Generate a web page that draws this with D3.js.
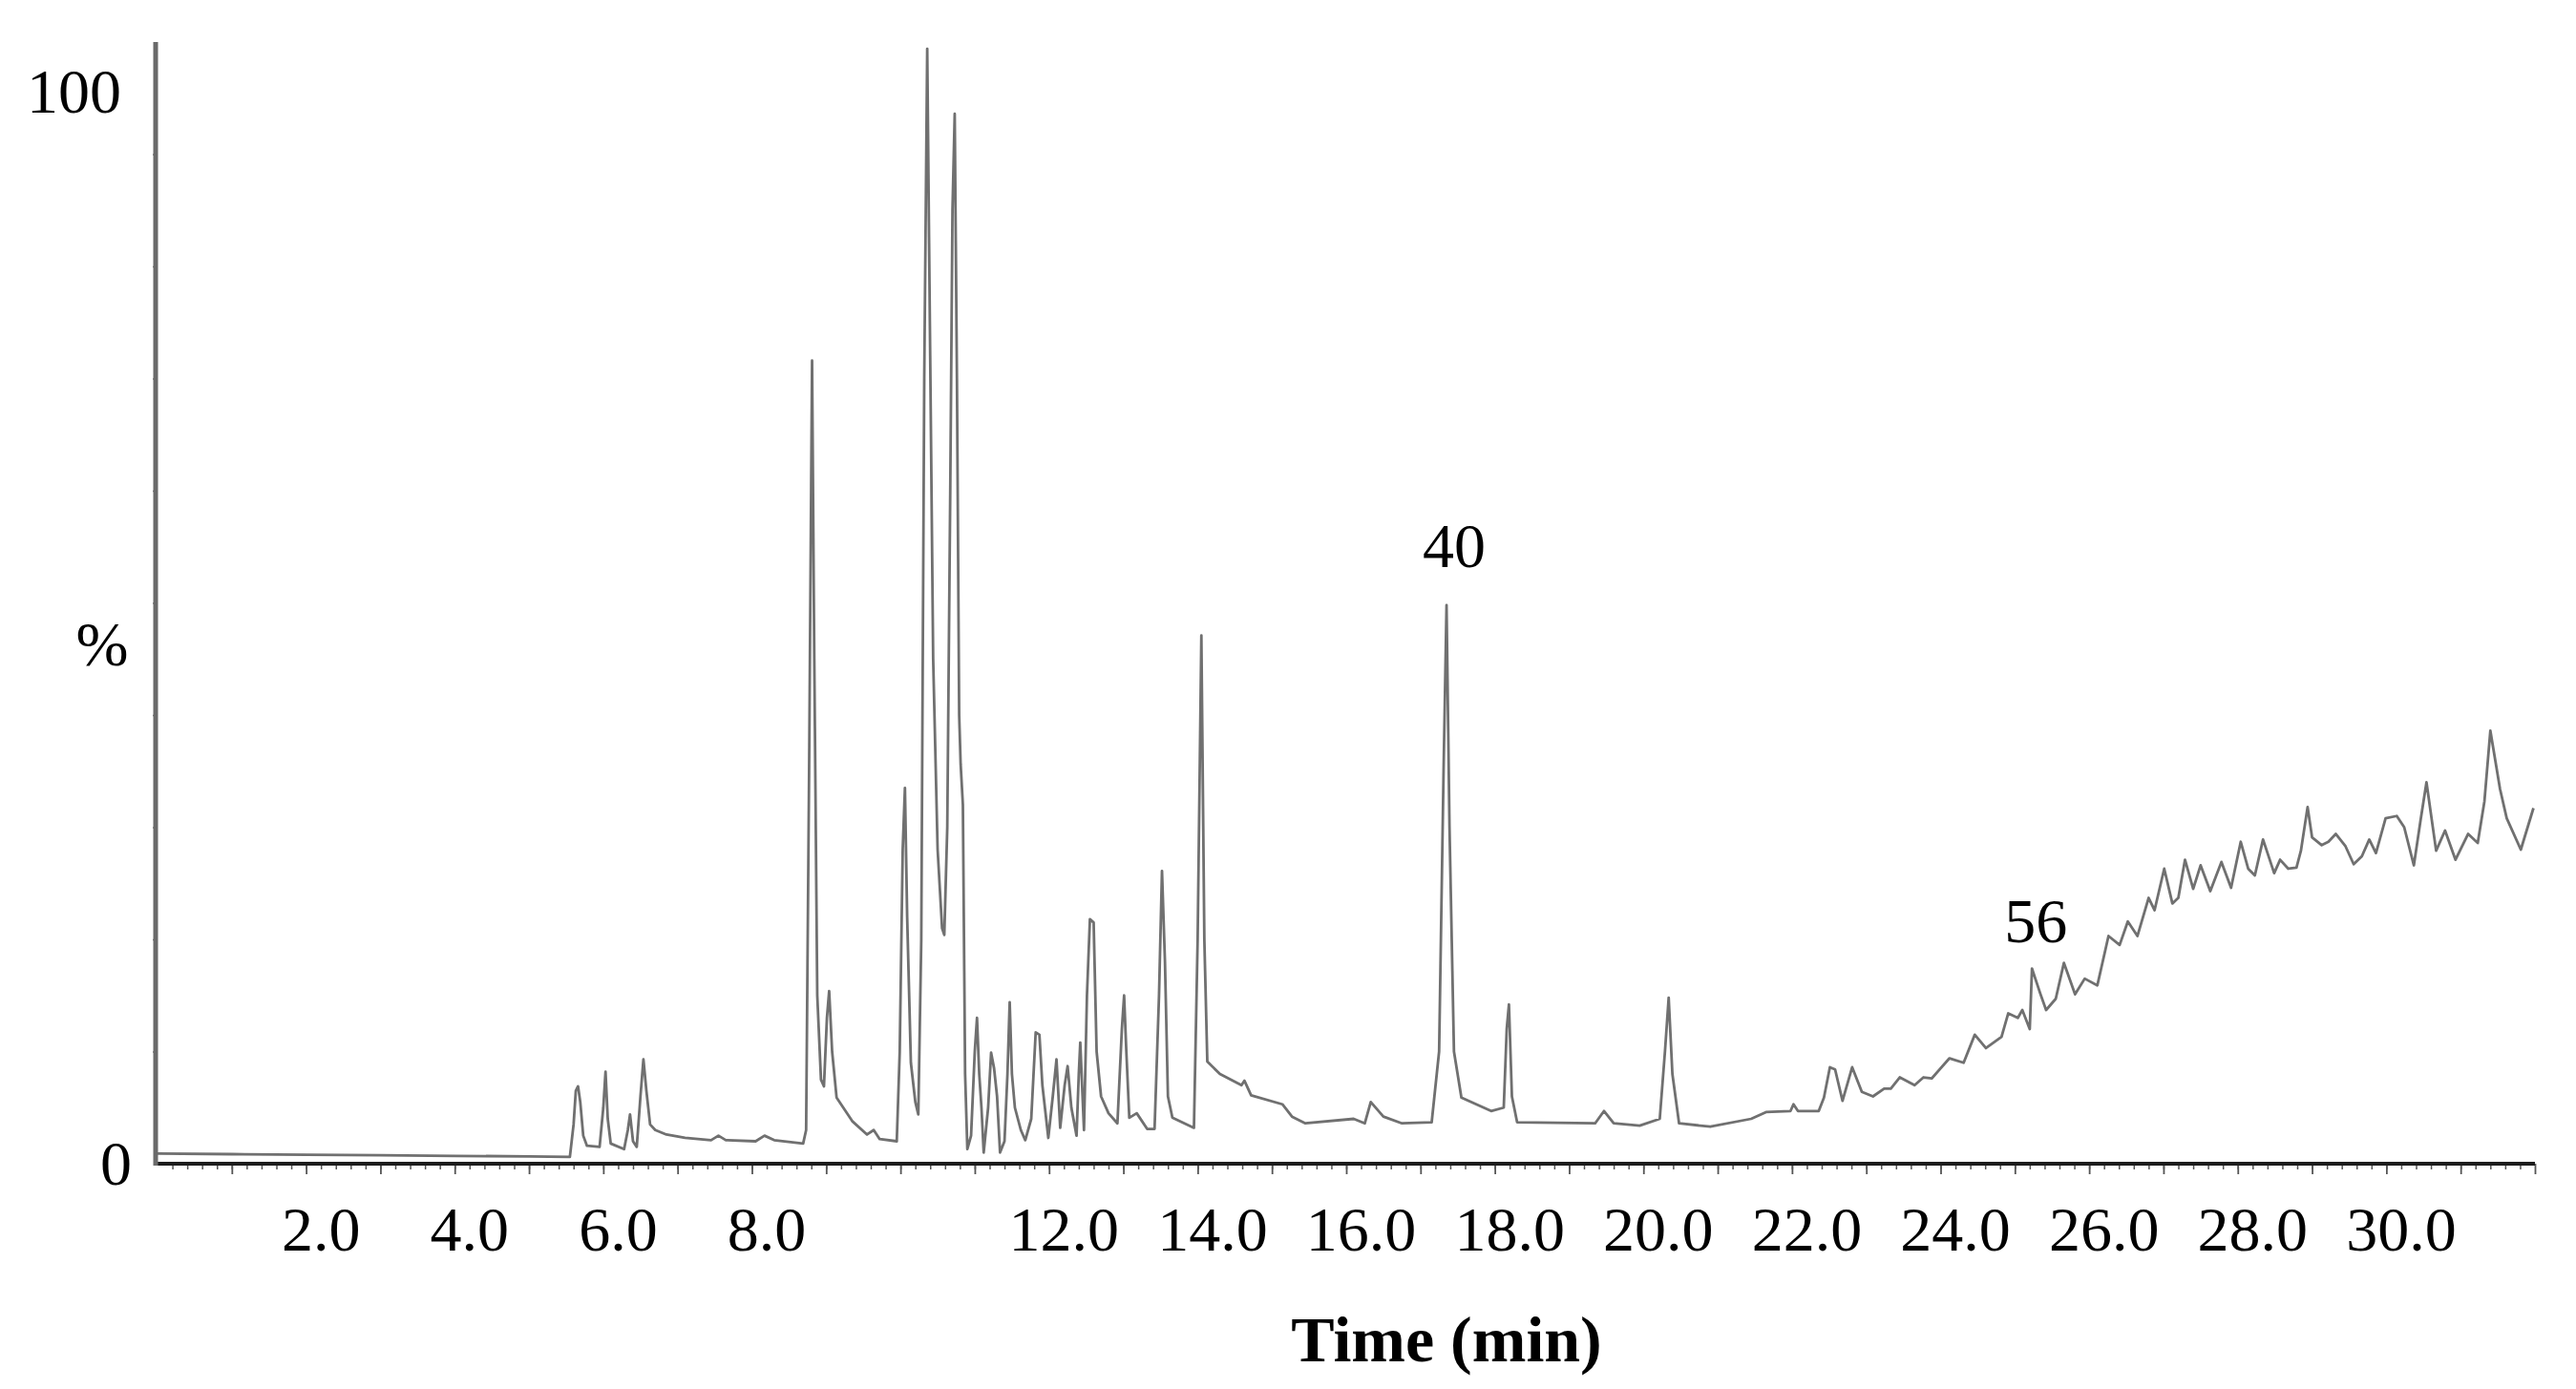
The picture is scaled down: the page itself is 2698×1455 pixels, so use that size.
<!DOCTYPE html>
<html>
<head>
<meta charset="utf-8">
<script src="https://cdn.jsdelivr.net/npm/d3@7"></script>
<style>
  body { margin: 0; background: #fff; }
  text { font-family: "Liberation Serif", "Times New Roman", serif; fill: #000; }
</style>
</head>
<body>
<div id="chart"></div>
<script>
// Retention time (min) and relative abundance (%)
var retentionTime = [
  0.0, 1.0, 2.0, 3.0, 4.0, 5.0, 5.55, 5.60, 5.63, 5.66, 5.69, 5.73, 5.78, 5.95, 6.00, 6.03, 6.06, 6.10,
  6.28, 6.33, 6.36, 6.40, 6.45, 6.50, 6.54, 6.58, 6.63, 6.70, 6.85, 7.10, 7.45, 7.55, 7.65, 8.05, 8.17,
  8.30, 8.69, 8.73, 8.77, 8.81, 8.84, 8.88, 8.93, 8.97, 9.01, 9.04, 9.08, 9.14, 9.35, 9.55, 9.64, 9.72,
  9.95, 9.99, 10.03, 10.06, 10.09, 10.14, 10.20, 10.24, 10.28, 10.32, 10.36, 10.40, 10.44, 10.50, 10.56,
  10.59, 10.63, 10.67, 10.70, 10.73, 10.76, 10.79, 10.81, 10.84, 10.87, 10.90, 10.95, 11.00, 11.03, 11.06,
  11.09, 11.12, 11.18, 11.22, 11.26, 11.30, 11.34, 11.40, 11.44, 11.47, 11.50, 11.54, 11.62, 11.68, 11.76,
  11.82, 11.87, 11.91, 11.99, 12.05, 12.10, 12.15, 12.21, 12.25, 12.30, 12.37, 12.40, 12.42, 12.47, 12.51,
  12.55, 12.60, 12.64, 12.70, 12.80, 12.92, 12.98, 13.01, 13.04, 13.08, 13.18, 13.32, 13.42, 13.48, 13.52,
  13.56, 13.60, 13.66, 13.95, 14.00, 14.05, 14.09, 14.13, 14.30, 14.59, 14.63, 14.72, 15.14, 15.27, 15.45,
  16.10, 16.25, 16.33, 16.50, 16.75, 17.15, 17.25, 17.31, 17.35, 17.39, 17.45, 17.55, 17.95, 18.12, 18.16,
  18.19, 18.23, 18.30, 19.35, 19.47, 19.60, 19.95, 20.22, 20.29, 20.34, 20.39, 20.48, 20.90, 21.45, 21.65,
  21.98, 22.02, 22.08, 22.36, 22.43, 22.51, 22.58, 22.68, 22.81, 22.94, 23.09, 23.24, 23.33, 23.45, 23.65,
  23.77, 23.88, 24.12, 24.31, 24.46, 24.61, 24.82, 24.91, 25.04, 25.10, 25.20, 25.23, 25.34, 25.42, 25.55,
  25.66, 25.81, 25.94, 26.11, 26.26, 26.41, 26.52, 26.65, 26.80, 26.88, 27.01, 27.12, 27.20, 27.29, 27.40,
  27.50, 27.63, 27.78, 27.91, 28.04, 28.14, 28.23, 28.34, 28.49, 28.57, 28.68, 28.79, 28.85, 28.94, 29.00,
  29.13, 29.22, 29.32, 29.45, 29.56, 29.67, 29.77, 29.86, 29.99, 30.14, 30.24, 30.37, 30.46, 30.54, 30.67,
  30.79, 30.93, 31.10, 31.23, 31.32, 31.40, 31.53, 31.62, 31.81, 31.98
];
var abundance = [
  0.9, 0.85, 0.8, 0.75, 0.7, 0.65, 0.6, 3.5, 6.5, 6.9, 5.5, 2.5, 1.6, 1.5, 5.0, 8.2, 4.0, 1.8,
  1.3, 3.0, 4.4, 2.0, 1.5, 6.0, 9.3, 6.5, 3.5, 3.0, 2.6, 2.3, 2.1, 2.5, 2.1, 2.0, 2.5,
  2.1, 1.8, 3.0, 35, 71.6, 45, 15, 7.5, 6.9, 13.0, 15.4, 10, 5.9, 3.8, 2.6, 3.0, 2.2,
  2.0, 10, 28, 33.5, 22, 9, 5.5, 4.4, 20, 70, 99.4, 72, 45, 28, 21,
  20.4, 30, 60, 85, 93.6, 70, 40, 35.6, 32, 8, 1.3, 2.5, 10, 13.0, 8,
  5, 1.0, 5, 9.9, 8.5, 6, 1.0, 2.0, 8, 14.4, 8, 5, 3, 2.1, 4,
  11.7, 11.5, 7, 2.3, 6, 9.3, 3.2, 7, 8.7, 5, 2.5, 8, 10.8, 3, 15,
  21.8, 21.5, 10, 6, 4.5, 3.6, 12, 15.0, 10, 4.1, 4.5, 3.1, 3.1, 15, 26.1,
  18, 6, 4.1, 3.2, 20, 47.1, 20, 9.1, 8.0, 7.0, 7.4, 6.1, 5.3, 4.2, 3.6,
  4.0, 3.6, 5.5, 4.2, 3.6, 3.7, 10, 35, 49.8, 30, 10, 5.9, 4.7, 5.0, 12,
  14.2, 6, 3.7, 3.6, 4.7, 3.6, 3.4, 4.0, 10, 14.8, 8, 3.6, 3.3, 4.0, 4.6,
  4.7, 5.3, 4.7, 4.7, 5.9, 8.6, 8.4, 5.6, 8.6, 6.4, 6.0, 6.7, 6.7, 7.7, 7.0,
  7.7, 7.6, 9.4, 9.0, 11.5, 10.3, 11.3, 13.4, 13.0, 13.7, 12.0, 17.4, 15.2, 13.7, 14.7,
  17.9, 15.1, 16.5, 15.9, 20.3, 19.5, 21.6, 20.3, 23.7, 22.6, 26.3, 23.2, 23.7, 27.1, 24.5,
  26.6, 24.3, 26.9, 24.6, 28.7, 26.3, 25.7, 28.9, 25.9, 27.1, 26.3, 26.4, 27.9, 31.8, 29.1,
  28.4, 28.7, 29.4, 28.3, 26.7, 27.4, 28.9, 27.7, 30.8, 31.0, 30.0, 26.6, 30.6, 34.0, 27.9,
  29.7, 27.1, 29.4, 28.6, 32.3, 38.6, 33.4, 30.8, 28.0, 31.7
];

// Axis ticks and labels
var timeLabels = [2, 4, 6, 8, 12, 14, 16, 18, 20, 22, 24, 26, 28, 30];
var majorTicks = d3.range(1, 33);
var minorTicks = d3.range(0.2, 32, 0.2);
var yTicks = d3.range(10, 100, 10);

// Annotated peaks
var peakNames = ['40', '56'];
var peakTimes = [17.35, 25.23];
var peakHeights = [49.8, 17.4];

var W = 2698, H = 1455;

var svg = d3.select('#chart').append('svg')
    .attr('width', W)
    .attr('height', H)
;

var x = d3.scaleLinear()
    .domain([0, 32])
    .range([165, 2655])
;

var y = d3.scaleLinear()
    .domain([0, 100])
    .range([1219, 44])
;

// Trace
var points = retentionTime.map(function (t, i) {
    return [t, abundance[i]];
});

var line = d3.line()
    .x(function (d) { return x(d[0]); })
    .y(function (d) { return y(d[1]); })
;

svg.append('path')
    .datum(points)
    .attr('d', line)
    .attr('fill', 'none')
    .attr('stroke', '#707070')
    .attr('stroke-width', 2.8)
    .attr('stroke-linejoin', 'round')
;

// Minor ticks on time axis
svg.append('g')
    .attr('transform', 'translate(0,' + y(0) + ')')
    .call(d3.axisBottom(x).tickValues(minorTicks).tickSize(6).tickFormat(''))
    .call(function (g) {
        g.select('.domain').remove();
        g.selectAll('line').attr('stroke', '#555').attr('stroke-width', 1.5);
    })
;

// Major ticks
svg.append('g')
    .attr('transform', 'translate(0,' + y(0) + ')')
    .call(d3.axisBottom(x).tickValues(majorTicks).tickSize(11).tickFormat(''))
    .call(function (g) {
        g.select('.domain').remove();
        g.selectAll('line').attr('stroke', '#555').attr('stroke-width', 1.8);
    })
;

// Time labels
svg.append('g')
    .attr('transform', 'translate(0,' + y(0) + ')')
    .call(d3.axisBottom(x).tickValues(timeLabels).tickSize(0).tickFormat(d3.format('.1f')))
    .call(function (g) {
        g.select('.domain').remove();
        g.selectAll('text')
            .attr('y', 91)
            .attr('dy', 0)
            .attr('dx', 15)
            .attr('font-size', '66px')
            .attr('font-family', '"Liberation Serif", serif')
            .attr('fill', '#000');
    })
;

// X axis line
svg.append('line')
    .attr('x1', 161).attr('x2', x(32))
    .attr('y1', y(0)).attr('y2', y(0))
    .attr('stroke', '#1c1c1c')
    .attr('stroke-width', 4)
;

// Y axis with tiny ticks
svg.append('g')
    .attr('transform', 'translate(163,0)')
    .call(d3.axisLeft(y).tickValues(yTicks).tickSize(3).tickFormat(''))
    .call(function (g) {
        g.select('.domain').remove();
        g.selectAll('line').attr('stroke', '#777').attr('stroke-width', 1.5);
    })
;

svg.append('line')
    .attr('x1', 163).attr('x2', 163)
    .attr('y1', y(100)).attr('y2', y(0) + 2)
    .attr('stroke', '#6a6a6a')
    .attr('stroke-width', 5)
;

// Y labels
svg.append('text')
    .text('100')
    .attr('x', 127)
    .attr('y', 118)
    .attr('text-anchor', 'end')
    .attr('font-size', '66px')
;

svg.append('text')
    .text('%')
    .attr('x', 107)
    .attr('y', 697)
    .attr('text-anchor', 'middle')
    .attr('font-size', '66px')
;

svg.append('text')
    .text('0')
    .attr('x', 138)
    .attr('y', 1241)
    .attr('text-anchor', 'end')
    .attr('font-size', '66px')
;

// Axis title
svg.append('text')
    .text('Time (min)')
    .attr('x', 1515)
    .attr('y', 1426)
    .attr('text-anchor', 'middle')
    .attr('font-size', '68px')
    .attr('font-weight', 'bold')
;

// Peak labels
svg.selectAll('text.peak')
    .data(peakNames)
    .enter()
    .append('text')
    .attr('class', 'peak')
    .text(function (d) { return d; })
    .attr('x', function (d, i) { return x(peakTimes[i]) + (i === 0 ? 8 : 4); })
    .attr('y', function (d, i) { return y(peakHeights[i]) - (i === 0 ? 40 : 28); })
    .attr('text-anchor', 'middle')
    .attr('font-size', '66px')
;
</script>
</body>
</html>
